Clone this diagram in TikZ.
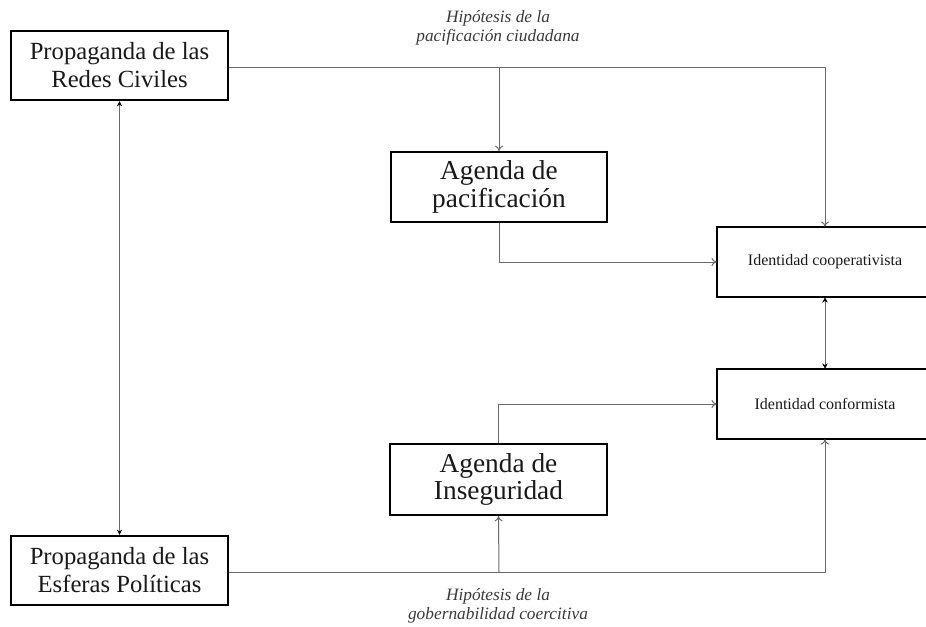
\documentclass[tikz,border=0pt]{standalone}
\usepackage{fontspec}
\setmainfont{Liberation Serif}
\usetikzlibrary{arrows.meta,calc}
\definecolor{linegray}{HTML}{6A6A6A}
\definecolor{labelgray}{HTML}{3A3A3A}
\begin{document}
\begin{tikzpicture}[x=0.75pt,y=-0.75pt,
  boxline/.style={draw=black,line width=1.6pt},
  bigbox/.style={boxline,fill=white,rectangle,inner sep=0pt,
    align=center,text=black!90,font=\fontsize{18.5}{21}\selectfont},
  agbox/.style={bigbox,font=\fontsize{20.5}{20.5}\selectfont},
  idbox/.style={rectangle,inner sep=0pt,align=center,text=black!90,font=\fontsize{12}{14}\selectfont},
  conn/.style={draw=linegray,line width=0.75pt,-{To[length=4pt,width=6pt]}},
  dconn/.style={draw=linegray,line width=0.75pt,{Stealth[length=4pt,width=4pt,black]}-{Stealth[length=4pt,width=4pt,black]}},
  hyp/.style={align=center,text=labelgray,font=\itshape\fontsize{13}{14.5}\selectfont,inner sep=0pt}]
\useasboundingbox (0,0) rectangle (926,626);
\node[bigbox,minimum width=217*0.75pt,minimum height=69*0.75pt] (rc) at (119.5,65.5) {Propaganda de las\\Redes Civiles};
\node[bigbox,minimum width=217*0.75pt,minimum height=69*0.75pt] (ep) at (119.5,570.5) {Propaganda de las\\Esferas Políticas};
\node[agbox,minimum width=216*0.75pt,minimum height=70*0.75pt] (ap) at (499,187) {Agenda de\\pacificación};
\node[agbox,minimum width=217*0.75pt,minimum height=71*0.75pt] (ai) at (498.5,479.5) {Agenda de\\Inseguridad};
\node[idbox,minimum width=216*0.75pt,minimum height=70*0.75pt] (ic) at (825,262) {Identidad cooperativista};
\node[idbox,minimum width=216*0.75pt,minimum height=70*0.75pt] (cf) at (825,404) {Identidad conformista};
\draw[boxline] ($(ic.north west)+(212,0)$) -- (ic.north west) -- (ic.south west) -- ($(ic.south west)+(212,0)$);
\draw[boxline] ($(cf.north west)+(212,0)$) -- (cf.north west) -- (cf.south west) -- ($(cf.south west)+(212,0)$);
\node[hyp] (h1) at (498,28) {Hipótesis de la\\pacificación ciudadana};
\node[hyp] (h2) at (498,606) {Hipótesis de la\\gobernabilidad coercitiva};
% top branch
\coordinate (t1) at (499,67);
\draw[conn] (rc.east |- t1) -| (ic.north);
\draw[conn] (t1) -- (ap.north);
% bottom branch
\coordinate (b1) at (499,572);
\draw[conn] (ep.east |- b1) -| (cf.south);
\draw[conn] (b1) -- (ai.south);
% agendas to identities
\draw[conn] (ap.south) |- (ic.west);
\draw[conn] (ai.north) |- (cf.west);
% double arrows
\draw[dconn] (rc.south) -- (ep.north);
\draw[dconn] (ic.south) -- (cf.north);
\end{tikzpicture}
\end{document}
